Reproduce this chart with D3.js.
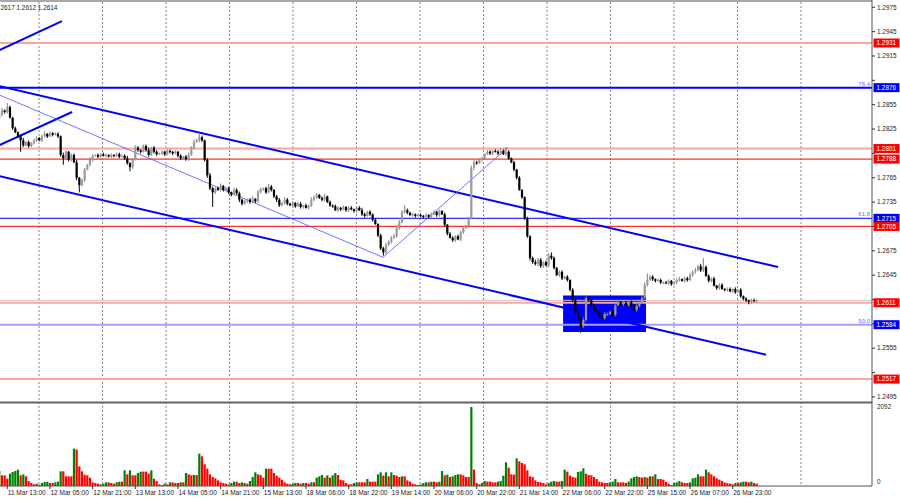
<!DOCTYPE html>
<html>
<head>
<meta charset="utf-8">
<script src="https://cdn.jsdelivr.net/npm/d3@7"></script>
<style>
  body { margin: 0; background: #fff; }
  svg { display: block; font-family: "Liberation Sans", Arial, sans-serif; }
</style>
</head>
<body>
<svg width="900" height="500"></svg>
<script>
// H1 closes
const closes = [
  1.2842,1.2848,1.2846,1.2852,1.2839,1.2826,1.2821,1.2816,1.2811,1.2805,1.2809,1.2804,1.2808,1.2811,1.2814,1.2811,1.2816,1.2819,1.2816,1.2820,
  1.2818,1.2819,1.2816,1.2793,1.2789,1.2797,1.2787,1.2793,1.2784,1.2765,1.2756,1.2762,1.2775,1.2781,1.2787,1.2792,1.2793,1.2791,1.2794,1.2792,
  1.2793,1.2791,1.2793,1.2792,1.2794,1.2791,1.2792,1.2789,1.2783,1.2778,1.2787,1.2802,1.2799,1.2797,1.2804,1.2799,1.2793,1.2802,1.2797,1.2794,
  1.2795,1.2797,1.2794,1.2798,1.2797,1.2795,1.2797,1.2792,1.2789,1.2791,1.2788,1.2793,1.2802,1.2809,1.2811,1.2815,1.2811,1.2787,1.2768,1.2752,
  1.2747,1.2752,1.2750,1.2755,1.2750,1.2752,1.2747,1.2744,1.2750,1.2746,1.2738,1.2733,1.2736,1.2738,1.2735,1.2739,1.2736,1.2747,1.2751,1.2752,
  1.2747,1.2754,1.2750,1.2742,1.2738,1.2731,1.2734,1.2738,1.2733,1.2731,1.2734,1.2730,1.2733,1.2729,1.2731,1.2728,1.2730,1.2738,1.2741,1.2744,
  1.2740,1.2738,1.2742,1.2735,1.2731,1.2730,1.2725,1.2728,1.2726,1.2729,1.2725,1.2728,1.2726,1.2724,1.2728,1.2725,1.2720,1.2718,1.2723,1.2720,
  1.2713,1.2708,1.2694,1.2678,1.2673,1.2682,1.2686,1.2691,1.2693,1.2703,1.2710,1.2723,1.2725,1.2722,1.2719,1.2720,1.2718,1.2719,1.2718,1.2717,
  1.2719,1.2717,1.2720,1.2723,1.2719,1.2724,1.2720,1.2707,1.2696,1.2691,1.2688,1.2693,1.2689,1.2698,1.2703,1.2705,1.2715,1.2777,1.2784,1.2783,
  1.2787,1.2789,1.2794,1.2797,1.2795,1.2798,1.2797,1.2795,1.2798,1.2794,1.2797,1.2789,1.2784,1.2775,1.2765,1.2750,1.2741,1.2715,1.2693,1.2666,
  1.2661,1.2659,1.2664,1.2656,1.2661,1.2657,1.2669,1.2666,1.2654,1.2645,1.2649,1.2641,1.2643,1.2639,1.2627,1.2614,1.2600,1.2592,1.2582,1.2590,
  1.2617,1.2614,1.2608,1.2602,1.2600,1.2595,1.2592,1.2597,1.2597,1.2600,1.2596,1.2608,1.2612,1.2609,1.2611,1.2608,1.2612,1.2607,1.2602,1.2607,
  1.2612,1.2617,1.2633,1.2639,1.2643,1.2640,1.2638,1.2639,1.2636,1.2636,1.2635,1.2638,1.2634,1.2636,1.2639,1.2640,1.2638,1.2641,1.2639,1.2645,
  1.2649,1.2651,1.2656,1.2651,1.2655,1.2644,1.2638,1.2641,1.2632,1.2629,1.2633,1.2628,1.2627,1.2628,1.2625,1.2628,1.2624,1.2627,1.2619,1.2616,
  1.2614,1.2612,1.2614,1.2613,1.2614
];
const firstOpen = 1.2838;

// wick lengths in pips above / below the body
const upWick = [
  2,3,1,5,2,1,2,1,2,3,1,2,1,2,2,1,2,3,1,2,
  1,2,2,1,3,2,1,2,2,3,1,2,2,1,3,2,1,2,1,2,
  2,1,2,1,2,2,1,2,3,1,2,3,2,1,2,2,3,1,2,2,
  1,2,1,2,2,1,2,1,2,1,2,3,2,3,2,5,2,1,2,3,
  2,1,2,3,1,2,2,1,3,2,2,1,2,1,2,3,1,3,2,1,
  2,3,2,1,2,2,1,3,2,1,2,1,2,2,1,2,2,3,2,2,
  1,2,3,1,2,1,2,2,1,2,1,2,2,1,2,2,3,2,1,2,
  1,2,1,2,2,3,2,2,3,2,3,2,6,2,1,2,1,2,2,1,
  2,1,2,2,1,2,1,2,1,2,2,1,2,2,1,2,2,3,3,2,
  2,2,1,2,2,1,2,2,3,2,6,2,1,2,1,2,1,1,2,1,
  2,3,2,2,1,2,3,4,2,1,2,2,1,2,1,2,2,1,2,3,
  2,2,1,2,1,2,2,3,2,1,2,3,2,1,2,2,1,2,2,3,
  2,3,3,8,2,2,1,2,2,1,2,2,1,2,2,3,1,2,2,3,
  2,3,2,3,11,2,2,1,2,1,2,2,1,2,2,1,2,1,2,1,
  2,1,2,2,1
];
const loWick = [
  2,1,2,2,1,2,1,2,14,2,1,2,1,2,2,1,2,1,2,1,
  2,1,2,2,8,1,2,2,1,3,9,2,2,1,2,2,1,2,2,1,
  2,1,2,2,1,2,1,2,2,5,2,1,2,2,1,2,2,1,2,2,
  1,2,2,1,2,2,1,2,2,1,2,2,1,2,1,2,2,2,3,2,
  18,2,1,2,2,1,2,2,1,2,3,2,1,2,2,1,2,2,1,2,
  2,1,2,2,3,2,1,2,2,1,2,2,1,2,2,1,2,1,2,2,
  1,2,2,1,2,2,1,2,2,1,2,2,1,2,2,1,2,2,1,2,
  2,1,2,2,4,2,1,2,1,2,2,1,2,2,1,2,2,1,2,2,
  1,2,2,1,2,2,1,2,2,1,2,2,1,2,2,1,2,1,2,2,
  1,2,2,1,2,2,1,2,2,1,2,2,1,2,2,1,2,2,2,3,
  2,2,3,2,2,1,2,2,2,1,2,2,1,2,2,2,2,2,8,2,
  2,2,1,2,2,2,1,2,2,1,2,2,1,2,2,1,2,2,1,2,
  2,1,2,2,1,2,2,1,2,2,1,2,2,1,2,2,1,2,2,1,
  2,2,1,2,2,1,2,2,1,2,2,1,2,2,1,2,2,1,2,2,
  2,3,2,1,2
];

// tick volumes
const volumes = [
  397,283,283,194,327,371,397,433,283,309,256,132,79,44,62,35,79,106,115,79,
  79,97,115,389,389,256,256,256,989,962,521,389,300,283,221,97,79,62,44,62,
  97,97,79,62,97,115,115,415,309,415,283,283,344,380,380,380,327,415,194,132,
  44,26,62,44,97,97,79,79,97,97,344,309,283,291,291,857,786,574,459,309,
  238,203,150,97,79,62,44,79,115,115,79,97,79,62,132,238,362,309,291,221,
  459,459,459,344,274,221,168,97,62,44,62,79,79,62,79,79,62,97,97,221,
  256,291,221,283,221,283,344,291,168,150,79,44,44,79,97,97,97,97,185,115,
  115,115,309,362,274,362,256,362,291,274,238,256,256,150,115,62,44,26,44,79,
  97,97,115,115,97,115,397,283,300,238,256,291,309,309,283,238,238,2092,433,79,
  44,79,132,115,115,97,97,115,132,274,627,486,309,300,733,653,609,574,415,256,
  238,150,106,97,79,44,79,115,132,115,115,132,433,380,274,238,221,371,389,468,
  327,291,283,238,185,115,97,79,79,97,115,185,97,97,97,79,115,203,238,256,
  238,221,238,221,256,256,309,185,185,168,106,62,26,79,97,132,97,79,79,97,
  203,221,309,256,256,433,362,309,256,203,168,132,97,79,62,44,79,79,97,115,
  115,97,115,79,62
];

const timeLabels = ["11 Mar 13:00","12 Mar 05:00","12 Mar 21:00","13 Mar 13:00","14 Mar 05:00",
  "14 Mar 21:00","15 Mar 13:00","18 Mar 06:00","18 Mar 22:00","19 Mar 14:00","20 Mar 06:00",
  "20 Mar 22:00","21 Mar 14:00","22 Mar 06:00","22 Mar 22:00","25 Mar 15:00","26 Mar 07:00","26 Mar 23:00"];
const firstLabelBar = 3, labelStep = 16;

const priceTicks = [1.2495,1.2525,1.2555,1.2585,1.2615,1.2645,1.2675,1.2705,1.2735,
  1.2765,1.2795,1.2825,1.2855,1.2885,1.2915,1.2945,1.2975];

// horizontal levels
const levelPrices = [1.2931, 1.2876, 1.2801, 1.2788, 1.2715, 1.2705, 1.2611, 1.2584, 1.2517];
const levelKinds  = ["zone", "fibMain", "zone", "line", "fib", "line", "zone", "fibLight", "zone"];
const fibNames    = { 1.2876: "76.4", 1.2715: "61.8", 1.2584: "50.0" };
const bidPrice = 1.2614;
const header = "2617 1.2612 1.2614";

// drawn objects: [bar1, price1, bar2, price2]
const channelLines = [[0, 1.2878, 292, 1.2655], [0, 1.2767, 287.5, 1.2547],
                      [0, 1.2922, 23.5, 1.2958], [0, 1.2805, 27.3, 1.2846]];
const thinLines = [[0, 1.2867, 143.9, 1.2667], [143.9, 1.2667, 190.6, 1.2802]];
const box = [211.4, 1.2620, 242.5, 1.2575];

const svg = d3.select("svg");
const W = 900, axisX = 872;
const priceTop = 2, priceBot = 401, volTop = 404, volBot = 486;

const x = d3.scaleLinear().domain([0, closes.length - 1]).range([-0.7, 756.7]);
const y = d3.scaleLinear().domain([1.2490, 1.29815]).range([priceBot, priceTop]);
const yv = d3.scaleLinear().domain([0, 2092]).range([volBot, 407]);

const bars = closes.map((c, i) => {
  const o = i === 0 ? firstOpen : closes[i - 1];
  return {
    i, o, c,
    h: Math.max(o, c) + upWick[i] * 0.0001,
    l: Math.min(o, c) - loWick[i] * 0.0001,
    v: volumes[i],
    up: i === 0 ? true : volumes[i] > volumes[i - 1]
  };
});

svg.append("rect").attr("width", W).attr("height", 500).attr("fill", "#fff");

const defs = svg.append("defs");
defs.append("clipPath").attr("id", "cp").append("rect")
  .attr("x", 0).attr("y", priceTop).attr("width", axisX).attr("height", priceBot - priceTop);
defs.append("clipPath").attr("id", "cv").append("rect")
  .attr("x", 0).attr("y", volTop).attr("width", axisX).attr("height", volBot - volTop);

// grid
svg.append("g").selectAll("line")
  .data(d3.range(39, 810, 63.5))
  .join("line")
  .attr("x1", d => d).attr("x2", d => d)
  .attr("y1", priceTop).attr("y2", volBot)
  .attr("stroke", "#666").attr("stroke-width", 0.8)
  .attr("stroke-dasharray", "2,2");

const pg = svg.append("g").attr("clip-path", "url(#cp)");

// rectangle zone
pg.append("rect")
  .attr("x", x(box[0])).attr("y", y(box[1]))
  .attr("width", x(box[2]) - x(box[0])).attr("height", y(box[3]) - y(box[1]))
  .attr("fill", "#0000ff");

const levelStyle = {
  zone: { stroke: "#ffa3a3", w: 2, box: "#ff0000" },
  line: { stroke: "#ff3030", w: 1.2, box: "#ff0000" },
  fibMain: { stroke: "#0000ff", w: 2, box: "#0000ff" },
  fib: { stroke: "#3030ff", w: 1.1, box: "#0000ff" },
  fibLight: { stroke: "#a0a0ff", w: 2, box: "#0000ff" }
};

pg.append("line")
  .attr("x1", 0).attr("x2", axisX)
  .attr("y1", y(bidPrice)).attr("y2", y(bidPrice))
  .attr("stroke", "#c8c8c8").attr("stroke-width", 1);

pg.selectAll(".lvl")
  .data(levelPrices)
  .join("line")
  .attr("class", "lvl")
  .attr("x1", 0).attr("x2", axisX)
  .attr("y1", d => y(d)).attr("y2", d => y(d))
  .attr("stroke", (d, k) => levelStyle[levelKinds[k]].stroke)
  .attr("stroke-width", (d, k) => levelStyle[levelKinds[k]].w);

pg.selectAll(".fibt")
  .data(levelPrices.filter(p => fibNames[p]))
  .join("text")
  .attr("class", "fibt")
  .attr("x", 870).attr("y", d => y(d) - 2)
  .attr("text-anchor", "end")
  .attr("font-size", 6)
  .attr("fill", "#6a6aff")
  .text(d => fibNames[d]);

pg.selectAll(".chan")
  .data(channelLines)
  .join("line")
  .attr("class", "chan")
  .attr("x1", d => x(d[0])).attr("y1", d => y(d[1]))
  .attr("x2", d => x(d[2])).attr("y2", d => y(d[3]))
  .attr("stroke", "#0000ff").attr("stroke-width", 2);

pg.selectAll(".thin")
  .data(thinLines)
  .join("line")
  .attr("class", "thin")
  .attr("x1", d => x(d[0])).attr("y1", d => y(d[1]))
  .attr("x2", d => x(d[2])).attr("y2", d => y(d[3]))
  .attr("stroke", "#5050ff").attr("stroke-width", 0.8);

// candles
const cg = pg.append("g");
cg.selectAll(".wick")
  .data(bars)
  .join("line")
  .attr("class", "wick")
  .attr("x1", d => x(d.i)).attr("x2", d => x(d.i))
  .attr("y1", d => y(d.h)).attr("y2", d => y(d.l))
  .attr("stroke", d => d.c >= d.o ? "#808080" : "#000")
  .attr("stroke-width", 1);

cg.selectAll(".body")
  .data(bars)
  .join("rect")
  .attr("class", "body")
  .attr("x", d => x(d.i) - 1.1)
  .attr("width", 2.2)
  .attr("y", d => y(Math.max(d.o, d.c)))
  .attr("height", d => Math.max(1, Math.abs(y(d.o) - y(d.c))))
  .attr("fill", d => d.c >= d.o ? "#9c9c9c" : "#000");

// header
svg.append("text")
  .attr("x", 0.5).attr("y", 9.5)
  .attr("font-size", 6.4)
  .attr("fill", "#222")
  .text(header);

// volumes
svg.append("g").attr("clip-path", "url(#cv)")
  .selectAll("rect")
  .data(bars)
  .join("rect")
  .attr("x", d => x(d.i) - 1.1)
  .attr("width", 2.2)
  .attr("y", d => yv(d.v))
  .attr("height", d => volBot - yv(d.v))
  .attr("fill", d => d.up ? "#008000" : "#ff0000");

// frame
svg.append("line").attr("x1", 0).attr("x2", axisX).attr("y1", 1).attr("y2", 1)
  .attr("stroke", "#555").attr("stroke-width", 1);
svg.append("line").attr("x1", 0).attr("x2", axisX).attr("y1", 402.5).attr("y2", 402.5)
  .attr("stroke", "#666").attr("stroke-width", 2);
svg.append("line").attr("x1", 0).attr("x2", axisX).attr("y1", volBot).attr("y2", volBot)
  .attr("stroke", "#555").attr("stroke-width", 1);
svg.append("line").attr("x1", axisX).attr("x2", axisX).attr("y1", 0).attr("y2", volBot)
  .attr("stroke", "#555").attr("stroke-width", 1);

// price axis: tick labels covered by a level box are not shown
const ax = svg.append("g");
const freeTicks = priceTicks.filter(t => levelPrices.every(p => Math.abs(y(t) - y(p)) > 8));
ax.selectAll(".tk")
  .data(priceTicks)
  .join("line")
  .attr("class", "tk")
  .attr("x1", axisX).attr("x2", axisX + 3)
  .attr("y1", d => y(d)).attr("y2", d => y(d))
  .attr("stroke", "#333");
ax.selectAll(".tl")
  .data(freeTicks)
  .join("text")
  .attr("class", "tl")
  .attr("x", 877).attr("y", d => y(d)).attr("dy", "0.35em")
  .attr("font-size", 6.4)
  .attr("fill", "#222")
  .text(d => d.toFixed(4));

// level price boxes
const lb = ax.selectAll(".lb")
  .data(levelPrices)
  .join("g")
  .attr("class", "lb")
  .attr("transform", d => `translate(0,${y(d)})`);
lb.append("rect")
  .attr("x", 873.5).attr("y", -4.5)
  .attr("width", 26).attr("height", 9)
  .attr("fill", (d, k) => levelStyle[levelKinds[k]].box);
lb.append("text")
  .attr("x", 876.5).attr("dy", "0.35em")
  .attr("font-size", 6.4)
  .attr("fill", "#fff")
  .text(d => d.toFixed(4));

// volume axis
ax.append("text").attr("x", 877).attr("y", 407).attr("dy", "0.35em")
  .attr("font-size", 6.4).attr("fill", "#222").text("2092");
ax.append("text").attr("x", 877).attr("y", 482).attr("dy", "0.35em")
  .attr("font-size", 6.4).attr("fill", "#222").text("0");

// time axis
const tg = svg.append("g");
timeLabels.forEach((t, k) => {
  const bx = x(firstLabelBar + k * labelStep);
  tg.append("line").attr("x1", bx).attr("x2", bx).attr("y1", volBot).attr("y2", volBot + 3)
    .attr("stroke", "#333");
  tg.append("text").attr("x", bx + 0.5).attr("y", 494.5)
    .attr("font-size", 6.5).attr("fill", "#222").text(t);
});
</script>
</body>
</html>
